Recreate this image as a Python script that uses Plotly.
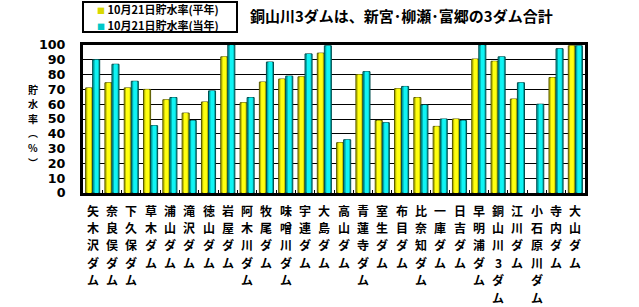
import plotly.graph_objects as go

dams = ["矢木沢ダム", "奈良俣ダム", "下久保ダム", "草木ダム", "浦山ダム", "滝沢ダム", "徳山ダム",
        "岩屋ダム", "阿木川ダム", "牧尾ダム", "味噌川ダム", "宇連ダム", "大島ダム", "高山ダム",
        "青蓮寺ダム", "室生ダム", "布目ダム", "比奈知ダム", "一庫ダム", "日吉ダム", "早明浦ダム",
        "銅山川3ダム", "江川ダム", "小石原川ダム", "寺内ダム", "大山ダム"]
normal_year = [71, 74.5, 71, 70, 63, 54, 61.5, 92, 61, 75, 77, 78.5, 94.5, 34, 80, 49,
               70.5, 64.5, 45, 50, 90.5, 89, 63.5, None, 78, 99.5]
this_year = [90, 87, 75.5, 45.5, 64.5, 49, 69, 100, 64.5, 88.5, 79, 94, 99.5, 36, 82, 47.5,
             72, 59.5, 50, 49, 100, 92, 74.5, 60, 97.5, 99.5]
y_ticks = list(range(0, 101, 10))
legend_names = ["10月21日貯水率(平年)", "10月21日貯水率(当年)"]

W = 502.0   # plot width px
H = 148.0   # plot height px
BW = 0.365  # bar width in category units


def py(pix):
    """pixel row (from top of page) -> paper y"""
    return (193.0 - pix) / H


def px(pix):
    """pixel column -> paper x"""
    return (pix - 83.0) / W


fig = go.Figure()
fig.add_trace(go.Bar(x=dams, y=normal_year, name=legend_names[0],
                     offset=-BW, width=BW,
                     marker=dict(color="#BEBE00", line=dict(color="#5A5A00", width=1)),
                     showlegend=False))
fig.add_trace(go.Bar(x=dams, y=normal_year, name="平年_hl", offset=-BW + 0.09, width=BW - 0.17,
                     marker=dict(color="#FFFF10", line=dict(width=0)),
                     showlegend=False, hoverinfo="skip"))
fig.add_trace(go.Bar(x=dams, y=this_year, name=legend_names[1],
                     offset=0, width=BW,
                     marker=dict(color="#00AAAA", line=dict(color="#004E4E", width=1)),
                     showlegend=False))
fig.add_trace(go.Bar(x=dams, y=this_year, name="当年_hl", offset=0.1, width=BW - 0.17,
                     marker=dict(color="#10F4F4", line=dict(width=0)),
                     showlegend=False, hoverinfo="skip"))

fig.update_layout(
    width=639, height=307,
    margin=dict(l=83, r=54, t=45, b=114, autoexpand=False),
    paper_bgcolor="white", plot_bgcolor="white",
    barmode="overlay",
    font=dict(family="Noto Sans CJK JP", color="black"),
)
fig.update_xaxes(
    type="category", categoryorder="array", categoryarray=dams,
    showticklabels=False, automargin=False,
    showline=True, linecolor="black", linewidth=3, mirror=True,
    ticks="inside", ticklen=3, tickcolor="black", tickson="boundaries",
    showgrid=False,
)
fig.update_yaxes(
    range=[0, 100], tickvals=y_ticks, ticktext=[str(v) for v in y_ticks], automargin=False,
    tickfont=dict(family="DejaVu Sans", size=12.7, weight="bold", color="black"),
    showgrid=True, gridcolor="black", gridwidth=1,
    showline=True, linecolor="black", linewidth=3, mirror=True,
    ticks="", ticklabelstandoff=12, zeroline=False,
)

ann = []
# vertical category labels, one character per row
ROW0, ROWSTEP = 210.0, 17.4
for d in dams:
    for r, ch in enumerate(d):
        ann.append(dict(
            xref="x", yref="paper", x=d, y=py(ROW0 + ROWSTEP * r),
            xanchor="center", yanchor="middle", text=ch, showarrow=False,
            font=dict(family="Noto Sans CJK JP", size=12, weight="bold", color="black"),
        ))

# legend box
shapes = [dict(type="rect", xref="paper", yref="paper", x0=px(83), x1=px(237),
               y0=py(32), y1=py(2), line=dict(color="black", width=2), fillcolor="white",
               layer="above")]
for i, (nm, col) in enumerate(zip(legend_names, ["#D8D800", "#00C8C8"])):
    ann.append(dict(
        xref="paper", yref="paper", x=px(95), y=py(9.5 + 16 * i), xanchor="left", yanchor="middle",
        text=f"<span style='color:{col};font-size:8px'>■</span> {nm}",
        showarrow=False, font=dict(family="Noto Sans CJK JP", size=11, weight="bold", color="black"),
    ))

ann.append(dict(
    xref="paper", yref="paper", x=px(248), y=py(16), xanchor="left", yanchor="middle",
    text="銅山川3ダムは、新宮･柳瀬･富郷の3ダム合計", showarrow=False,
    font=dict(family="Noto Sans CJK JP", size=15, weight="bold", color="black"),
))
for i, ch in enumerate(["貯", "水", "率", "︵", "%", "︶"]):
    ann.append(dict(
        xref="paper", yref="paper", x=px(33), y=py(89 + 14.6 * i),
        xanchor="center", yanchor="middle", text=ch, showarrow=False,
        font=dict(family="Noto Sans CJK JP", size=10, weight="bold", color="black"),
    ))
fig.update_layout(annotations=ann, shapes=shapes)

fig.write_html("out.html")
